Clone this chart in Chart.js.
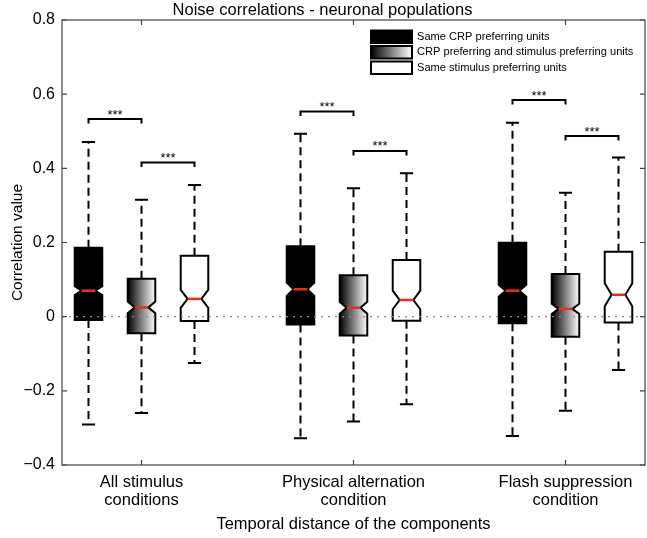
<!DOCTYPE html>
<html>
<head>
<meta charset="utf-8">
<script src="https://cdn.jsdelivr.net/npm/chart.js@4/dist/chart.umd.min.js"></script>
<style>
html,body{margin:0;padding:0;background:#fff;}
#c{display:block;}
</style>
</head>
<body>
<canvas id="c" width="647" height="538"></canvas>
<script>
// ---- data ----
const categories = [["All stimulus", "conditions"], ["Physical alternation", "condition"], ["Flash suppression", "condition"]];
const seriesNames = ["Same CRP preferring units", "CRP preferring and stimulus preferring units", "Same stimulus preferring units"];
const yTicks = [-0.4, -0.2, 0, 0.2, 0.4, 0.6, 0.8];

// Same CRP preferring units
const crpMax    = [0.471, 0.493, 0.523];
const crpQ3     = [0.186, 0.190, 0.199];
const crpMedian = [0.070, 0.074, 0.070];
const crpQ1     = [-0.009, -0.021, -0.018];
const crpMin    = [-0.291, -0.328, -0.322];
const crpNotch  = [0.012, 0.018, 0.016];

// CRP preferring and stimulus preferring units
const mixMax    = [0.315, 0.346, 0.334];
const mixQ3     = [0.102, 0.112, 0.115];
const mixMedian = [0.025, 0.024, 0.021];
const mixQ1     = [-0.045, -0.051, -0.054];
const mixMin    = [-0.260, -0.283, -0.254];
const mixNotch  = [0.016, 0.016, 0.014];

// Same stimulus preferring units
const stimMax    = [0.355, 0.387, 0.429];
const stimQ3     = [0.164, 0.153, 0.175];
const stimMedian = [0.048, 0.045, 0.059];
const stimQ1     = [-0.012, -0.011, -0.016];
const stimMin    = [-0.125, -0.236, -0.144];
const stimNotch  = [0.024, 0.025, 0.031];

// significance brackets (***)
const bracketCrpMix  = [0.533, 0.553, 0.584];
const bracketMixStim = [0.416, 0.447, 0.487];
const sigLabel = "***";

// ---- build ----
const series = [
  {name: seriesNames[0], max: crpMax, q3: crpQ3, med: crpMedian, q1: crpQ1, min: crpMin, notch: crpNotch, fill: 'black'},
  {name: seriesNames[1], max: mixMax, q3: mixQ3, med: mixMedian, q1: mixQ1, min: mixMin, notch: mixNotch, fill: 'gradient'},
  {name: seriesNames[2], max: stimMax, q3: stimQ3, med: stimMedian, q1: stimQ1, min: stimMin, notch: stimNotch, fill: 'white'}
];
const offsets = [-0.25, 0, 0.25];
const BOX_W = 0.13;   // in x units
const CAP_W = 0.062;
const FONT = "'Liberation Sans', Arial, Helvetica, sans-serif";

function fmt(v){
  if (Math.abs(v) < 1e-9) return '0';
  const s = Math.abs(v).toFixed(1);
  return v < 0 ? '\u2212' + s : s;
}

const boxPlugin = {
  id: 'boxes',
  afterDatasetsDraw(chart){
    const {ctx, chartArea: a, scales: {x, y}} = chart;
    ctx.save();
    const wPx = x.getPixelForValue(1 + BOX_W) - x.getPixelForValue(1);
    const capPx = x.getPixelForValue(1 + CAP_W) - x.getPixelForValue(1);
    series.forEach((s, si) => {
      categories.forEach((c, gi) => {
        const xc = x.getPixelForValue(gi + 1 + offsets[si]);
        const L = xc - wPx/2, R = xc + wPx/2, nl = xc - wPx/4, nr = xc + wPx/4;
        const pMax = y.getPixelForValue(s.max[gi]), pQ3 = y.getPixelForValue(s.q3[gi]);
        const pMed = y.getPixelForValue(s.med[gi]), pQ1 = y.getPixelForValue(s.q1[gi]);
        const pMin = y.getPixelForValue(s.min[gi]);
        const pNH = y.getPixelForValue(s.med[gi] + s.notch[gi]);
        const pNL = y.getPixelForValue(s.med[gi] - s.notch[gi]);
        // whiskers
        ctx.strokeStyle = '#000';
        ctx.lineWidth = 2;
        ctx.setLineDash([8, 5]);
        ctx.beginPath();
        ctx.moveTo(xc, pQ3); ctx.lineTo(xc, pMax);
        ctx.moveTo(xc, pQ1); ctx.lineTo(xc, pMin);
        ctx.stroke();
        ctx.setLineDash([]);
        ctx.beginPath();
        ctx.moveTo(xc - capPx/2, pMax); ctx.lineTo(xc + capPx/2, pMax);
        ctx.moveTo(xc - capPx/2, pMin); ctx.lineTo(xc + capPx/2, pMin);
        ctx.stroke();
        // notched box
        ctx.beginPath();
        ctx.moveTo(L, pQ3); ctx.lineTo(R, pQ3); ctx.lineTo(R, pNH); ctx.lineTo(nr, pMed);
        ctx.lineTo(R, pNL); ctx.lineTo(R, pQ1); ctx.lineTo(L, pQ1); ctx.lineTo(L, pNL);
        ctx.lineTo(nl, pMed); ctx.lineTo(L, pNH); ctx.closePath();
        if (s.fill === 'gradient') {
          const g = ctx.createLinearGradient(L, 0, R, 0);
          g.addColorStop(0, '#000'); g.addColorStop(1, '#fff');
          ctx.fillStyle = g;
        } else ctx.fillStyle = s.fill === 'black' ? '#000' : '#fff';
        ctx.fill();
        ctx.lineJoin = 'miter';
        ctx.lineWidth = 2;
        ctx.stroke();
        // median
        ctx.strokeStyle = '#e2321f';
        ctx.lineWidth = 2.5;
        ctx.beginPath(); ctx.moveTo(nl, pMed); ctx.lineTo(nr, pMed); ctx.stroke();
      });
    });
    // zero dotted reference line
    ctx.strokeStyle = '#8a8a8a';
    ctx.lineWidth = 1.3;
    ctx.setLineDash([2, 5]);
    const y0 = y.getPixelForValue(0);
    ctx.beginPath(); ctx.moveTo(a.left, y0); ctx.lineTo(a.right, y0); ctx.stroke();
    ctx.setLineDash([]);
    // brackets
    const drawBracket = (x1, x2, v) => {
      const py = y.getPixelForValue(v);
      ctx.strokeStyle = '#000'; ctx.lineWidth = 2;
      ctx.beginPath();
      ctx.moveTo(x1, py + 4.5); ctx.lineTo(x1, py); ctx.lineTo(x2, py); ctx.lineTo(x2, py + 4.5);
      ctx.stroke();
      ctx.fillStyle = '#000';
      ctx.font = '13px ' + FONT;
      ctx.textAlign = 'center'; ctx.textBaseline = 'alphabetic';
      ctx.fillText(sigLabel, (x1 + x2)/2, py - 0.5);
    };
    categories.forEach((c, gi) => {
      const xa = x.getPixelForValue(gi + 1 + offsets[0]);
      const xb = x.getPixelForValue(gi + 1 + offsets[1]);
      const xcc = x.getPixelForValue(gi + 1 + offsets[2]);
      drawBracket(xa, xb, bracketCrpMix[gi]);
      drawBracket(xb, xcc, bracketMixStim[gi]);
    });
    // frame + inward ticks
    ctx.strokeStyle = '#444'; ctx.lineWidth = 1.2;
    ctx.strokeRect(a.left, a.top, a.right - a.left, a.bottom - a.top);
    ctx.beginPath();
    categories.forEach((c, gi) => {
      const px = x.getPixelForValue(gi + 1);
      ctx.moveTo(px, a.bottom); ctx.lineTo(px, a.bottom - 5);
      ctx.moveTo(px, a.top); ctx.lineTo(px, a.top + 5);
    });
    yTicks.forEach(v => {
      const py = y.getPixelForValue(v);
      ctx.moveTo(a.left, py); ctx.lineTo(a.left + 5, py);
      ctx.moveTo(a.right, py); ctx.lineTo(a.right - 5, py);
    });
    ctx.stroke();
    // legend
    const lx = 371, lw = 41, lh = 12.5, rowY = [30.5, 46, 61.5];
    ctx.font = '11.1px ' + FONT;
    ctx.textAlign = 'left'; ctx.textBaseline = 'middle';
    series.forEach((s, si) => {
      const ty = rowY[si];
      if (s.fill === 'gradient') {
        const g = ctx.createLinearGradient(lx, 0, lx + lw, 0);
        g.addColorStop(0, '#000'); g.addColorStop(1, '#fff');
        ctx.fillStyle = g;
      } else ctx.fillStyle = s.fill === 'black' ? '#000' : '#fff';
      ctx.fillRect(lx, ty, lw, lh);
      ctx.strokeStyle = '#000'; ctx.lineWidth = 2;
      ctx.strokeRect(lx, ty, lw, lh);
      ctx.fillStyle = '#000';
      ctx.fillText(s.name, lx + lw + 5, ty + lh/2);
    });
    ctx.restore();
  }
};

new Chart(document.getElementById('c'), {
  type: 'scatter',
  data: {
    datasets: series.map((s, si) => ({
      label: s.name,
      data: s.med.map((m, gi) => ({x: gi + 1 + offsets[si], y: m})),
      pointRadius: 0,
      showLine: false
    }))
  },
  options: {
    responsive: false,
    animation: false,
    devicePixelRatio: 1,
    layout: {padding: {left: 0, right: 2, top: 0, bottom: 0}},
    plugins: {
      legend: {display: false},
      tooltip: {enabled: false},
      title: {
        display: true,
        text: 'Noise correlations - neuronal populations',
        color: '#000',
        font: {family: FONT, size: 16.5, weight: 'normal', lineHeight: 18.5/16.5},
        padding: {top: 1, bottom: 0.5}
      }
    },
    scales: {
      x: {
        type: 'linear',
        min: 0.625, max: 3.375,
        afterBuildTicks: (sc) => { sc.ticks = categories.map((c, i) => ({value: i + 1})); },
        afterFit: (sc) => { sc.height = 73; },
        grid: {display: false, drawTicks: false},
        border: {display: false},
        ticks: {
          autoSkip: false, maxRotation: 0,
          padding: 8,
          color: '#000',
          font: {family: FONT, size: 16.5, lineHeight: 18/16.5},
          callback: (v) => categories[Math.round(v) - 1]
        },
        title: {
          display: true,
          text: 'Temporal distance of the components',
          color: '#000',
          font: {family: FONT, size: 16.5, lineHeight: 20/16.5}
        }
      },
      y: {
        type: 'linear',
        min: -0.4, max: 0.8,
        afterBuildTicks: (sc) => { sc.ticks = yTicks.map(v => ({value: v})); },
        afterFit: (sc) => { sc.width = 62; },
        grid: {display: false, drawTicks: false},
        border: {display: false},
        ticks: {
          padding: 7,
          color: '#000',
          font: {family: FONT, size: 16},
          callback: (v) => fmt(v)
        },
        title: {
          display: true,
          text: 'Correlation value',
          color: '#000',
          font: {family: FONT, size: 15.5, lineHeight: 28/15.5}
        }
      }
    }
  },
  plugins: [boxPlugin]
});
</script>
</body>
</html>
